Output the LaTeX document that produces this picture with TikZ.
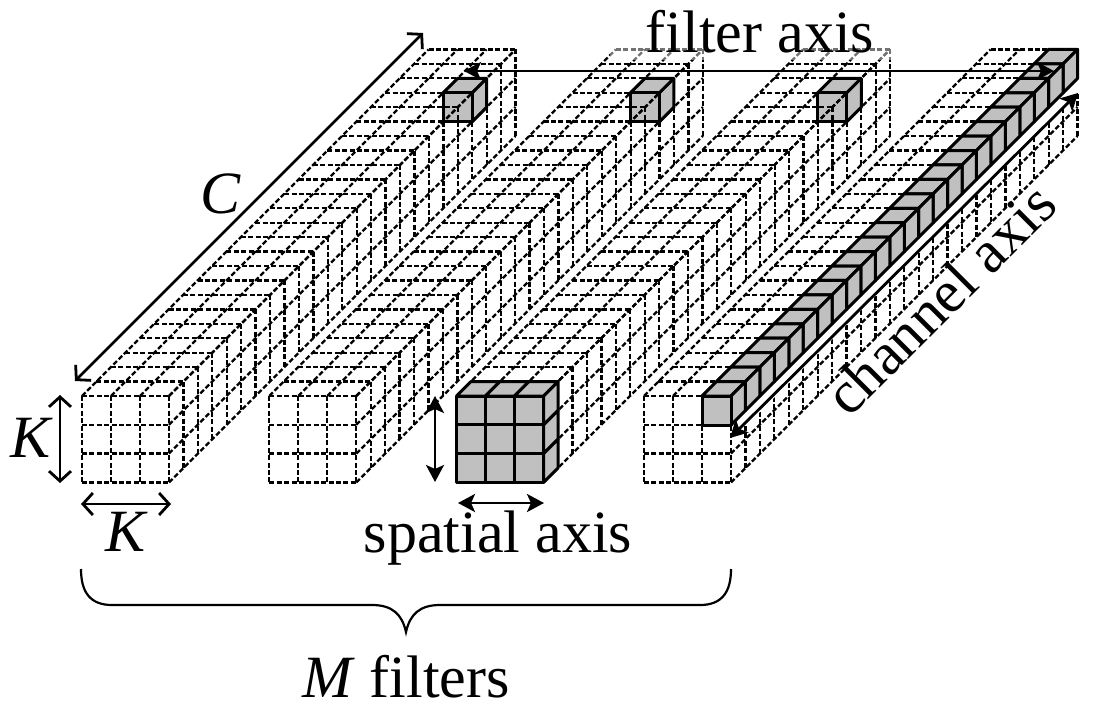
\documentclass[tikz,border=0pt]{standalone}
\usepackage{fontspec}
\setmainfont{Liberation Serif}
\usetikzlibrary{arrows.meta}
\definecolor{cubegray}{HTML}{C0C0C0}
\newcommand{\dd}{14.44}
\tikzset{
 gridline/.style={line width=2.3pt,dash pattern=on 5pt off 2.4pt,line cap=butt},
 solidedge/.style={line width=3pt,line join=round,draw=black},
 cubeface/.style={solidedge,fill=cubegray},
 axisline/.style={line width=2.8pt},
 opentip/.style={axisline,{Straight Barb[length=10pt,width=22pt]}-{Straight Barb[length=10pt,width=22pt]}},
 filledtip/.style={axisline,{Stealth[length=17pt,width=18pt,inset=4pt]}-{Stealth[length=17pt,width=18pt,inset=4pt]}},
 lbl/.style={inner sep=0pt,anchor=base,font=\fontsize{60}{60}\selectfont},
}
\begin{document}
\begin{tikzpicture}[x=1pt,y=-1pt]
\useasboundingbox (0,0) rectangle (1102,715);
% small gray cubes: fill first (dashes show through)
\foreach \ox in {82,269.3,456.6}{
  \pgfmathsetmacro{\cx}{\ox+58+21*\dd}
  \pgfmathsetmacro{\cy}{396-21*\dd}
  \fill[cubegray] (\cx,\cy) -- ++(\dd,-\dd) -- ++(29,0) -- ++(0,29) -- ++(-\dd,\dd) -- ++(-29,0) -- cycle;
}
% dashed grids
\foreach \ox in {82,269.3,456.6,644}{
  \foreach \i in {0,1,2,3}{
    \draw[gridline] (\ox,396+\i*28.8) -- ++(87,0);
    \draw[gridline] (\ox+\i*29,396) -- ++(0,87);
    \draw[gridline] (\ox+\i*29,396) -- ++(24*\dd,-24*\dd);
    \draw[gridline] (\ox+87,396+\i*28.8) -- ++(24*\dd,-24*\dd);
  }
  \foreach \k in {1,...,24}{
    \draw[gridline] (\ox+\k*\dd,396-\k*\dd) -- ++(87,0);
    \draw[gridline] (\ox+87+\k*\dd,396-\k*\dd) -- ++(0,87);
  }
}
% faded back edges under the title
\fill[white,opacity=.45] (610,45) rectangle (706,60);
\fill[white,opacity=.45] (785,45) rectangle (894,60);
% outlines of the small cubes
\foreach \ox in {82,269.3,456.6}{
  \pgfmathsetmacro{\cx}{\ox+58+21*\dd}
  \pgfmathsetmacro{\cy}{396-21*\dd}
  \draw[solidedge] (\cx,\cy) rectangle ++(29,29);
  \draw[solidedge] (\cx,\cy) -- ++(\dd,-\dd) -- ++(29,0) -- ++(0,29) -- ++(-\dd,\dd);
  \draw[solidedge] (\cx+29,\cy) -- ++(\dd,-\dd);
}
% large gray cube
\foreach \i in {0,1,2}{
  \draw[cubeface] (456.6+\i*29,396) -- ++(\dd,-\dd) -- ++(29,0) -- ++(-\dd,\dd) -- cycle;
  \draw[cubeface] (456.6+87,396+\i*28.8) -- ++(\dd,-\dd) -- ++(0,28.8) -- ++(-\dd,\dd) -- cycle;
  \foreach \j in {0,1,2}{
    \draw[cubeface] (456.6+\i*29,396+\j*28.8) rectangle ++(29,28.8);
  }
}
% gray column
\fill[white] (717,425) -- (1092,50) -- (1092,78) -- (747,425) -- cycle;
\foreach \k in {23,22,...,0}{
  \pgfmathsetmacro{\cx}{702+\k*\dd}
  \pgfmathsetmacro{\cy}{396-\k*\dd}
  \draw[cubeface] (\cx,\cy) -- ++(\dd,-\dd) -- ++(29,0) -- ++(-\dd,\dd) -- cycle;
  \draw[cubeface] (\cx+29,\cy) -- ++(\dd,-\dd) -- ++(0,29) -- ++(-\dd,\dd) -- cycle;
}
\draw[cubeface] (702,396) rectangle ++(29,29);
% arrow ends
\coordinate (cA) at (423,33);  \coordinate (cB) at (75,381);
\coordinate (kvA) at (60,395); \coordinate (kvB) at (60,483);
\coordinate (khA) at (81,504); \coordinate (khB) at (171,504);
\coordinate (svA) at (435,396);\coordinate (svB) at (435,482);
\coordinate (shA) at (458,503);\coordinate (shB) at (544,503);
\coordinate (faA) at (464,71); \coordinate (faB) at (1054,71);
\coordinate (caA) at (1078,93);\coordinate (caB) at (730,438);
\draw[opentip] (cA) -- (cB);
\draw[opentip] (kvA) -- (kvB);
\draw[opentip] (khA) -- (khB);
\draw[filledtip] (svA) -- (svB);
\draw[filledtip] (shA) -- (shB);
\draw[filledtip] (faA) -- (faB);
\draw[filledtip] (caA) -- (caB);
% brace
\coordinate (brL) at (81,569); \coordinate (brR) at (731,569); \coordinate (brT) at (406,632);
\draw[line width=2.2pt] (brL) .. controls (81,592) and (90,605) .. (112,605) -- (372,605)
  .. controls (392,605) and (402,614) .. (brT) .. controls (410,614) and (420,605) .. (440,605)
  -- (700,605) .. controls (722,605) and (731,592) .. (brR);
% labels
\node[lbl] (t1) at (760,52) {filter axis};
\node[lbl] (t2) at (498,552) {spatial axis};
\node[lbl,rotate=45,anchor=center] (t3) at (940,299) {channel axis};
\node[lbl] (t4) at (406,697) {\textit{M} filters};
\node[lbl] (t5) at (221,213) {\textit{C}};
\node[lbl] (t6) at (32,457) {\textit{K}};
\node[lbl] (t7) at (127,551) {\textit{K}};
\end{tikzpicture}
\end{document}
